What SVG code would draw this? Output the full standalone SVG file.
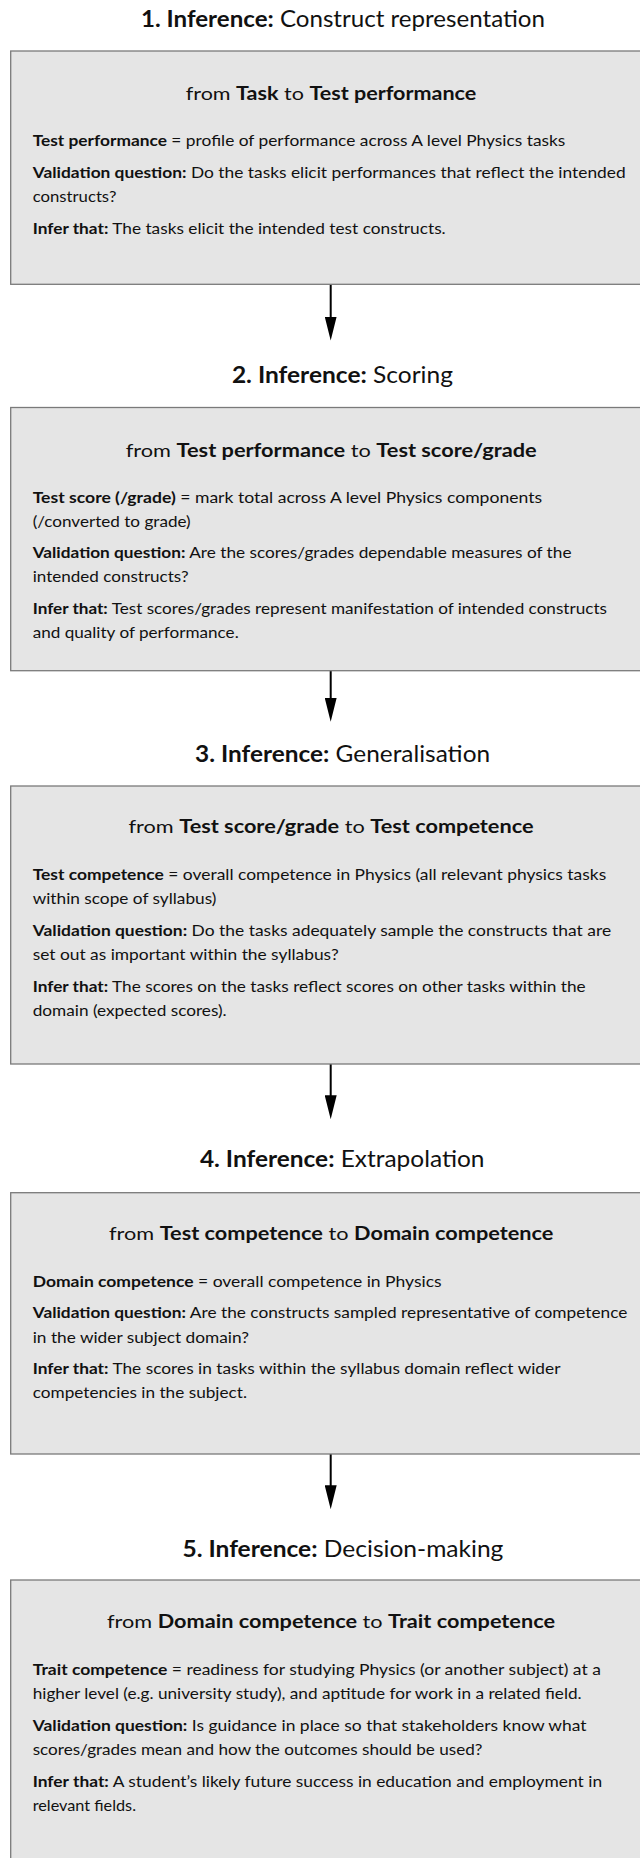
<svg xmlns="http://www.w3.org/2000/svg" width="640" height="1858" viewBox="0 0 640 1858">
<style>
text{font-family:Lato,"Liberation Sans",sans-serif;fill:#111}
.t{font-size:23.5px;text-anchor:middle}
.f{font-size:18px;text-anchor:middle}
.b{font-size:16px}
.k{font-weight:bold}
.box{fill:#e5e5e5;stroke:#7a7a7a;stroke-width:1.3}
.ln{stroke:#000;stroke-width:2;fill:none;marker-end:url(#ah)}
</style>
<defs>
<marker id="ah" viewBox="0 0 24 12" refX="12" refY="6" markerWidth="24" markerHeight="12" markerUnits="userSpaceOnUse" orient="auto">
<path d="M0,0 L24,6 L0,12 Z" fill="#000"/>
</marker>
</defs>
<rect width="640" height="1858" fill="#fff"/>
<g id="connectors">
<path class="ln" d="M330.7,284.3 V328.5"/>
<path class="ln" d="M330.7,670.7 V709.7"/>
<path class="ln" d="M330.7,1064 V1107.3"/>
<path class="ln" d="M330.7,1454 V1497.3"/>
</g>
<g id="n1">
<text class="t" x="343" y="27.3" textLength="404" lengthAdjust="spacingAndGlyphs"><tspan class="k">1. Inference:</tspan> Construct representation</text>
<rect class="box" x="10.7" y="51" width="700" height="233.3"/>
<text class="f" x="331" y="100" textLength="290.6" lengthAdjust="spacingAndGlyphs">from <tspan class="k">Task</tspan> to <tspan class="k">Test performance</tspan></text>
<text class="b" x="32.7" y="146" textLength="532.6" lengthAdjust="spacingAndGlyphs"><tspan class="k">Test performance</tspan> = profile of performance across A level Physics tasks</text>
<text class="b" x="32.7" y="178" textLength="593" lengthAdjust="spacingAndGlyphs"><tspan class="k">Validation question:</tspan> Do the tasks elicit performances that reflect the intended</text>
<text class="b" x="32.7" y="202" textLength="83.7" lengthAdjust="spacingAndGlyphs">constructs?</text>
<text class="b" x="32.7" y="234" textLength="413" lengthAdjust="spacingAndGlyphs"><tspan class="k">Infer that:</tspan> The tasks elicit the intended test constructs.</text>
</g>
<g id="n2">
<text class="t" x="342.4" y="383.3" textLength="221" lengthAdjust="spacingAndGlyphs"><tspan class="k">2. Inference:</tspan> Scoring</text>
<rect class="box" x="10.7" y="407.5" width="700" height="263.2"/>
<text class="f" x="331.2" y="456.7" textLength="411" lengthAdjust="spacingAndGlyphs">from <tspan class="k">Test performance</tspan> to <tspan class="k">Test score/grade</tspan></text>
<text class="b" x="32.7" y="502.7" textLength="509.4" lengthAdjust="spacingAndGlyphs"><tspan class="k">Test score (/grade)</tspan> = mark total across A level Physics components</text>
<text class="b" x="32.7" y="526.7" textLength="158" lengthAdjust="spacingAndGlyphs">(/converted to grade)</text>
<text class="b" x="32.7" y="558.3" textLength="538.8" lengthAdjust="spacingAndGlyphs"><tspan class="k">Validation question:</tspan> Are the scores/grades dependable measures of the</text>
<text class="b" x="32.7" y="582" textLength="156" lengthAdjust="spacingAndGlyphs">intended constructs?</text>
<text class="b" x="32.7" y="614.3" textLength="574.3" lengthAdjust="spacingAndGlyphs"><tspan class="k">Infer that:</tspan> Test scores/grades represent manifestation of intended constructs</text>
<text class="b" x="32.7" y="638.3" textLength="206" lengthAdjust="spacingAndGlyphs">and quality of performance.</text>
</g>
<g id="n3">
<text class="t" x="342.6" y="761.7" textLength="295" lengthAdjust="spacingAndGlyphs"><tspan class="k">3. Inference:</tspan> Generalisation</text>
<rect class="box" x="10.7" y="786" width="700" height="278"/>
<text class="f" x="331" y="833.3" textLength="405" lengthAdjust="spacingAndGlyphs">from <tspan class="k">Test score/grade</tspan> to <tspan class="k">Test competence</tspan></text>
<text class="b" x="32.7" y="880" textLength="573.5" lengthAdjust="spacingAndGlyphs"><tspan class="k">Test competence</tspan> = overall competence in Physics (all relevant physics tasks</text>
<text class="b" x="32.7" y="904.3" textLength="183.7" lengthAdjust="spacingAndGlyphs">within scope of syllabus)</text>
<text class="b" x="32.7" y="936" textLength="578.4" lengthAdjust="spacingAndGlyphs"><tspan class="k">Validation question:</tspan> Do the tasks adequately sample the constructs that are</text>
<text class="b" x="32.7" y="960" textLength="306" lengthAdjust="spacingAndGlyphs">set out as important within the syllabus?</text>
<text class="b" x="32.7" y="991.7" textLength="553" lengthAdjust="spacingAndGlyphs"><tspan class="k">Infer that:</tspan> The scores on the tasks reflect scores on other tasks within the</text>
<text class="b" x="32.7" y="1016" textLength="194" lengthAdjust="spacingAndGlyphs">domain (expected scores).</text>
</g>
<g id="n4">
<text class="t" x="342.2" y="1167.3" textLength="284.5" lengthAdjust="spacingAndGlyphs"><tspan class="k">4. Inference:</tspan> Extrapolation</text>
<rect class="box" x="10.7" y="1192.7" width="700" height="261.3"/>
<text class="f" x="331.2" y="1240" textLength="444.5" lengthAdjust="spacingAndGlyphs">from <tspan class="k">Test competence</tspan> to <tspan class="k">Domain competence</tspan></text>
<text class="b" x="32.7" y="1286.7" textLength="409" lengthAdjust="spacingAndGlyphs"><tspan class="k">Domain competence</tspan> = overall competence in Physics</text>
<text class="b" x="32.7" y="1318.3" textLength="594.7" lengthAdjust="spacingAndGlyphs"><tspan class="k">Validation question:</tspan> Are the constructs sampled representative of competence</text>
<text class="b" x="32.7" y="1342.7" textLength="216.3" lengthAdjust="spacingAndGlyphs">in the wider subject domain?</text>
<text class="b" x="32.7" y="1374" textLength="527.8" lengthAdjust="spacingAndGlyphs"><tspan class="k">Infer that:</tspan> The scores in tasks within the syllabus domain reflect wider</text>
<text class="b" x="32.7" y="1398.3" textLength="214.3" lengthAdjust="spacingAndGlyphs">competencies in the subject.</text>
</g>
<g id="n5">
<text class="t" x="342.9" y="1556.7" textLength="321" lengthAdjust="spacingAndGlyphs"><tspan class="k">5. Inference:</tspan> Decision-making</text>
<rect class="box" x="10.7" y="1580" width="700" height="300"/>
<text class="f" x="331" y="1628.3" textLength="448" lengthAdjust="spacingAndGlyphs">from <tspan class="k">Domain competence</tspan> to <tspan class="k">Trait competence</tspan></text>
<text class="b" x="32.7" y="1675" textLength="568.2" lengthAdjust="spacingAndGlyphs"><tspan class="k">Trait competence</tspan> = readiness for studying Physics (or another subject) at a</text>
<text class="b" x="32.7" y="1699.3" textLength="549" lengthAdjust="spacingAndGlyphs">higher level (e.g. university study), and aptitude for work in a related field.</text>
<text class="b" x="32.7" y="1731" textLength="553.9" lengthAdjust="spacingAndGlyphs"><tspan class="k">Validation question:</tspan> Is guidance in place so that stakeholders know what</text>
<text class="b" x="32.7" y="1755" textLength="449.8" lengthAdjust="spacingAndGlyphs">scores/grades mean and how the outcomes should be used?</text>
<text class="b" x="32.7" y="1786.7" textLength="569.4" lengthAdjust="spacingAndGlyphs"><tspan class="k">Infer that:</tspan> A student’s likely future success in education and employment in</text>
<text class="b" x="32.7" y="1810.7" textLength="103.3" lengthAdjust="spacingAndGlyphs">relevant fields.</text>
</g>
</svg>
